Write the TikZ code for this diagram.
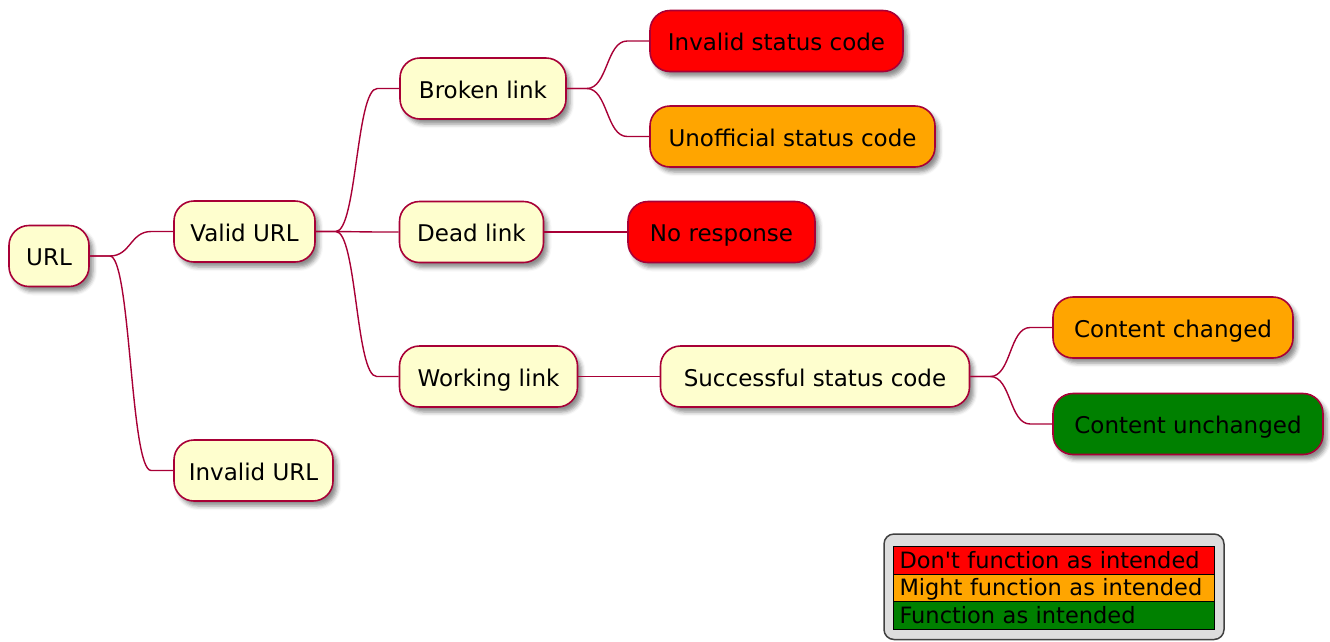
\documentclass[tikz,border=0pt]{standalone}
\usepackage{fontspec}
\setmainfont{DejaVu Sans}
\usetikzlibrary{calc,shadows,shadows.blur}

\definecolor{mmborder}{HTML}{A80036}
\definecolor{mmfill}{HTML}{FEFECE}
\definecolor{mmred}{HTML}{FF0000}
\definecolor{mmorange}{HTML}{FFA500}
\definecolor{mmgreen}{HTML}{008000}
\definecolor{legendbg}{HTML}{DDDDDD}

\tikzset{
  topic/.style={draw=mmborder, line width=1.6pt, fill=mmfill,
    rounded corners=20pt, minimum height=61pt, inner sep=0pt,
    text height=19pt, text depth=0pt,
    font=\fontsize{23}{27}\selectfont, text=black,
    blur shadow={shadow xshift=4pt, shadow yshift=-5pt,
      shadow blur radius=4pt, shadow opacity=45}},
  bad/.style={topic, fill=mmred},
  maybe/.style={topic, fill=mmorange},
  good/.style={topic, fill=mmgreen},
  link/.style={draw=mmborder, line width=1.4pt},
  legendframe/.style={draw=black!75, line width=1.5pt, fill=legendbg, rounded corners=10pt},
  legendrow/.style={draw=black, line width=1pt, anchor=west, text width=309pt,
    align=left, inner xsep=6pt, inner ysep=0pt, minimum height=27.5pt,
    text height=15pt, text depth=0pt,
    font=\fontsize{22.5}{26}\selectfont, text=black}
}

% curved mind-map branch: short stub, S-curve, short stub
\newcommand\mmbranch[2]{%
  \draw[link] (#1.east) -- ++(20,0)
    .. controls +(21,0) and +(-21,0) .. ($(#2.west)+(-22,0)$) -- (#2.west);}

\begin{document}
\begin{tikzpicture}[x=1pt,y=-1pt]
  \useasboundingbox (0,0) rectangle (1330,641);

  % root and first level
  \node[topic, minimum width=80pt]  (url)     at (49,256)    {URL};
  \node[topic, minimum width=141pt] (valid)   at (244.5,231.5) {Valid URL};
  \node[topic, minimum width=159pt] (invalid) at (253.5,470.5) {Invalid URL};

  % second level
  \node[topic, minimum width=166pt] (broken)  at (483,88.5)  {Broken link};
  \node[topic, minimum width=144pt] (dead)    at (471.5,232) {Dead link};
  \node[topic, minimum width=178pt] (working) at (488.5,376.5) {Working link};

  % leaves
  \node[bad,   minimum width=253pt] (invcode) at (776.5,41)    {Invalid status code};
  \node[maybe, minimum width=285pt] (unoff)   at (792.5,136.5) {Unofficial status code};
  \node[bad,   minimum width=187pt] (noresp)  at (721.5,232)   {No response};
  \node[topic, minimum width=309pt] (success) at (815,376.5)   {Successful status code};
  \node[maybe, minimum width=240pt] (changed) at (1173,327.5)  {Content changed};
  \node[good,  minimum width=270pt] (same)    at (1188,424)    {Content unchanged};

  % branches
  \mmbranch{url}{valid}
  \mmbranch{url}{invalid}
  \mmbranch{valid}{broken}
  \mmbranch{valid}{dead}
  \mmbranch{valid}{working}
  \mmbranch{broken}{invcode}
  \mmbranch{broken}{unoff}
  \mmbranch{dead}{noresp}
  \mmbranch{working}{success}
  \mmbranch{success}{changed}
  \mmbranch{success}{same}

  % legend
  \draw[legendframe] (884,534) rectangle (1224,639.5);
  \node[legendrow, fill=mmred]    (leg1) at (893,560.5) {\mbox{Don\textquotesingle t function as intended}};
  \node[legendrow, fill=mmorange] (leg2) at (893,588)   {\mbox{Might function as intended}};
  \node[legendrow, fill=mmgreen]  (leg3) at (893,615.5) {\mbox{Function as intended}};
\end{tikzpicture}
\end{document}
